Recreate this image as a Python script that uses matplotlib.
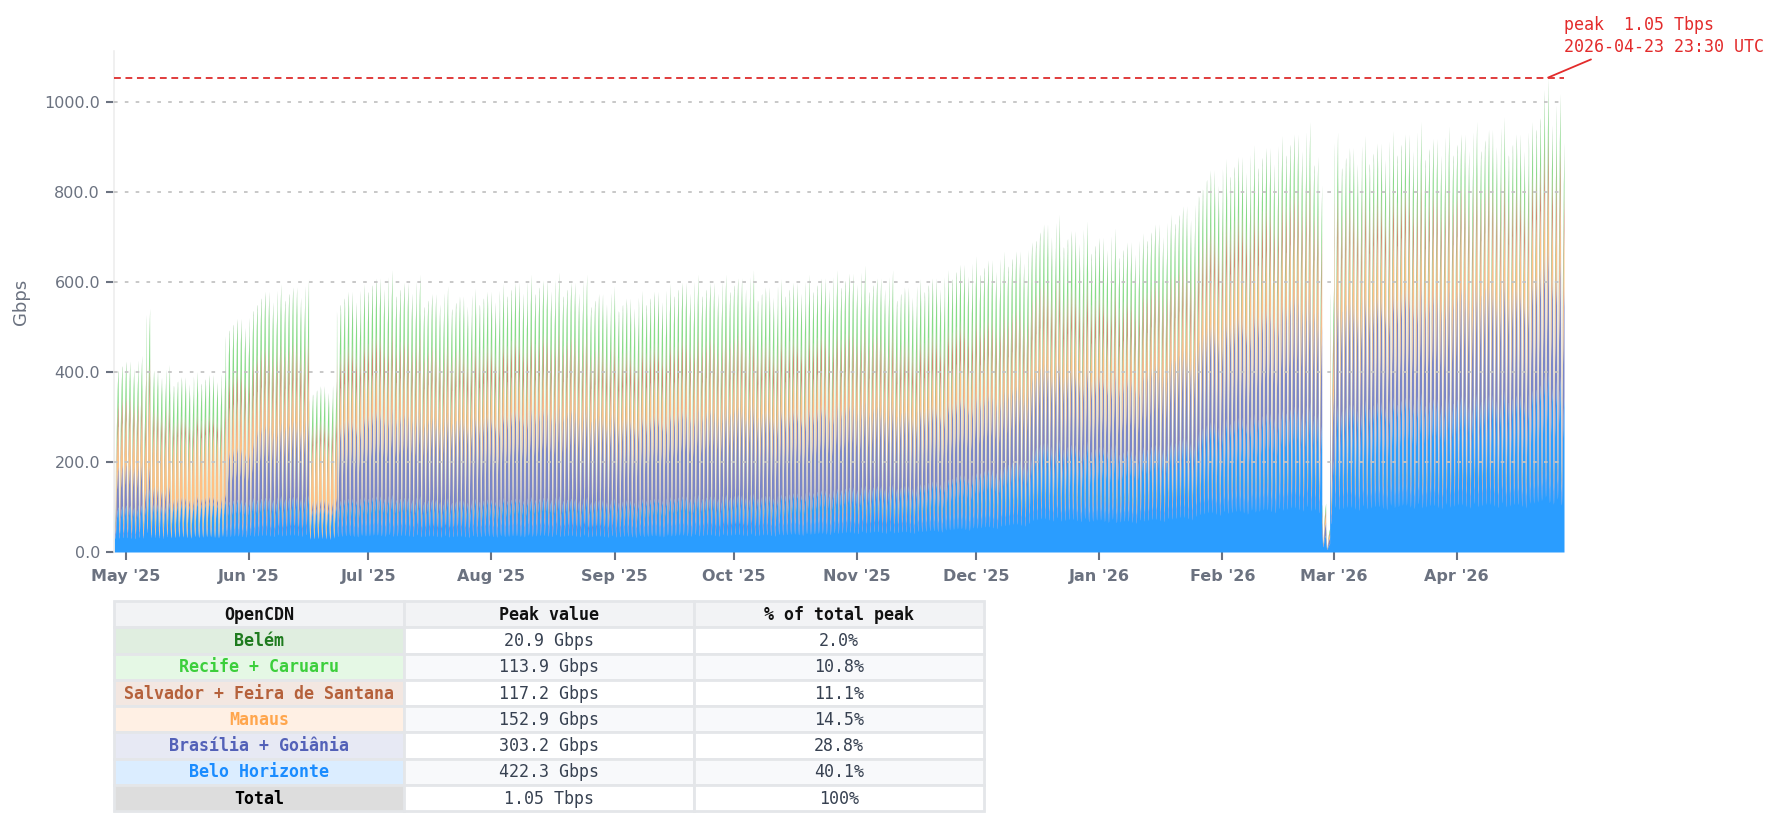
import numpy as np
import matplotlib
matplotlib.use("Agg")
import matplotlib.pyplot as plt
import matplotlib.dates as mdates
from matplotlib.patches import Rectangle

# ---------------- data ----------------
# stacking order bottom -> top
series_names = ["Belo Horizonte", "Brasília + Goiânia", "Manaus",
                "Salvador + Feira de Santana", "Recife + Caruaru", "Belém"]
series_colors = ["#2a9dff", "#5664b8", "#ffa955", "#c0603a", "#3cc83c", "#1f8a1f"]
series_alpha = [1.0, 0.78, 0.72, 0.72, 0.62, 0.7]

first_day = "2025-04-28"   # Monday; one value per week, from this week on
n_days = 365

# weekly evening-peak level of each series (Gbps)
bh_peak = [105, 108, 110, 112, 118, 122, 124, 100, 120, 125, 122, 118, 116, 118,
           120, 122, 120, 117, 116, 120, 125, 125, 128, 126, 132, 138, 145, 148,
           148, 158, 172, 185, 205, 245, 240, 235, 228, 240, 255, 290, 300, 310,
           325, 320, 330, 335, 345, 342, 348, 352, 350, 380, 365]
bg_peak = [95, 40, 15, 15, 120, 165, 170, 20, 180, 195, 192, 185, 185, 190,
           200, 202, 200, 190, 186, 190, 196, 196, 198, 190, 190, 190, 188, 180,
           170, 172, 176, 172, 168, 175, 170, 165, 165, 180, 195, 220, 232, 240,
           250, 240, 235, 240, 245, 242, 245, 250, 245, 265, 258]
man_peak = [95, 125, 140, 142, 100, 90, 90, 130, 85, 85, 84, 80, 78, 78,
            80, 80, 80, 77, 76, 77, 78, 78, 80, 78, 78, 79, 80, 80,
            77, 79, 82, 83, 85, 92, 90, 90, 90, 95, 100, 115, 120, 123,
            128, 125, 125, 126, 128, 127, 128, 128, 127, 135, 132]
sal_peak = [55, 50, 40, 40, 70, 85, 86, 45, 80, 84, 83, 80, 80, 81,
            84, 85, 84, 80, 78, 80, 83, 83, 85, 82, 83, 84, 86, 84,
            80, 82, 86, 87, 88, 94, 92, 90, 90, 94, 98, 103, 106, 107,
            108, 105, 100, 100, 102, 100, 100, 100, 100, 104, 100]
rec_peak = [68, 75, 78, 79, 102, 106, 108, 68, 103, 108, 106, 100, 99, 101,
            104, 104, 104, 99, 97, 101, 106, 106, 107, 102, 105, 107, 108, 105,
            102, 106, 110, 109, 109, 108, 107, 104, 102, 105, 106, 105, 105, 103,
            102, 100, 93, 92, 93, 92, 92, 93, 91, 88, 88]
bel_peak = [7, 7, 7, 7, 10, 12, 12, 7, 12, 13, 13, 12, 12, 12,
            12, 12, 12, 12, 12, 12, 12, 12, 12, 12, 12, 12, 13, 13,
            13, 13, 14, 14, 15, 16, 16, 16, 15, 16, 16, 17, 17, 17,
            17, 17, 17, 17, 17, 17, 17, 17, 17, 18, 17]

# night-time floor of each series as share of its peak
trough_share = [0.30, 0.12, 0.12, 0.12, 0.10, 0.10]

# typical daily shape (UTC hour, xx:30), 0 = floor, 1 = evening peak
day_shape = [0.97, 0.92, 0.75, 0.50, 0.30, 0.15, 0.06, 0.00, 0.02, 0.10, 0.22, 0.32,
             0.45, 0.55, 0.62, 0.66, 0.70, 0.76, 0.82, 0.87, 0.90, 0.93, 0.96, 1.00]

# weekday level (Mon..Sun)
weekday_level = [0.95, 0.97, 1.00, 1.00, 0.96, 0.93, 1.03]

# single days that stand out
special_days = {"2025-05-06": 1.38,
                "2026-02-25": 0.90, "2026-02-26": 0.12,
                "2026-02-27": 0.06, "2026-02-28": 0.70,
                "2026-04-23": 1.066}

# table contents
table_header = ["OpenCDN", "Peak value", "% of total peak"]
table_names = ["Belém", "Recife + Caruaru", "Salvador + Feira de Santana", "Manaus",
               "Brasília + Goiânia", "Belo Horizonte", "Total"]
table_peaks = ["20.9 Gbps", "113.9 Gbps", "117.2 Gbps", "152.9 Gbps",
               "303.2 Gbps", "422.3 Gbps", "1.05 Tbps"]
table_pcts = ["2.0%", "10.8%", "11.1%", "14.5%", "28.8%", "40.1%", "100%"]
table_text_colors = ["#1e7b1e", "#3ccf3c", "#b5613b", "#ffa64d", "#5361b8", "#1a8cff", "#000000"]
table_name_bg = ["#e0eee0", "#e5f8e5", "#f3e7e1", "#fff0e4", "#e7e9f4", "#dbedff", "#dddddd"]

peak_label = "peak  1.05 Tbps\n2026-04-23 23:30 UTC"

# ---------------- build the half-hour-stamped hourly series ----------------
peaks = [bh_peak, bg_peak, man_peak, sal_peak, rec_peak, bel_peak]
day0 = np.datetime64(first_day)
days = day0 + np.arange(n_days)
times = (days[:, None].astype("datetime64[m]")
         + np.arange(24)[None, :] * 60 + 30).ravel()

shape = np.array(day_shape)
day_factor = np.array([weekday_level[i % 7] for i in range(n_days)])
for d, f in special_days.items():
    idx = int((np.datetime64(d) - day0).astype(int))
    day_factor[idx] *= f

layers = []
for s in range(6):
    pk = np.array(peaks[s], dtype=float)[np.arange(n_days) // 7]
    tr = trough_share[s]
    vals = pk[:, None] * (tr + (1 - tr) * shape[None, :]) * day_factor[:, None]
    layers.append(vals.ravel())
layers = np.array(layers)
total = layers.sum(axis=0)
imax = int(np.argmax(total))
tmax, vmax = times[imax], total[imax]

# ---------------- figure ----------------
W, H = 1784, 825
fig = plt.figure(figsize=(W / 100, H / 100), dpi=100)
ax = fig.add_axes([114 / W, 1 - 552 / H, (1564 - 114) / W, (552 - 51) / H])

tnum = mdates.date2num(times.astype("datetime64[s]").astype(object))
base = np.zeros_like(total)
for s in range(6):
    top = base + layers[s]
    ax.fill_between(tnum, base, top, color=series_colors[s], alpha=series_alpha[s],
                    linewidth=0, zorder=2)
    base = top

ax.set_xlim(tnum[0], tnum[-1])
ax.set_ylim(0, vmax * 1.056)

grey = "#6b7280"
ax.set_yticks(np.arange(0, 1001, 200))
ax.yaxis.set_major_formatter(matplotlib.ticker.FormatStrFormatter("%.1f"))
ax.xaxis.set_major_locator(mdates.MonthLocator())
ax.xaxis.set_major_formatter(mdates.DateFormatter("%b '%y"))
ax.tick_params(axis="y", colors=grey, labelsize=11.5, length=6, width=1.5, pad=4)
ax.tick_params(axis="x", colors=grey, labelsize=11.5, length=6, width=1.5, pad=6)
for lab in ax.get_xticklabels():
    lab.set_fontweight("bold")
ax.set_ylabel("Gbps", color=grey, fontsize=13, labelpad=10)

for side in ["top", "right", "bottom"]:
    ax.spines[side].set_visible(False)
ax.spines["left"].set_color("#eeeeee")
ax.spines["left"].set_linewidth(1.2)

for yv in np.arange(200, 1001, 200):
    ax.axhline(yv, color="#c4c4c4", linewidth=1.3, linestyle=(0, (2, 4)), zorder=3)

ax.axhline(vmax, color="#e03c3c", linewidth=1.4, linestyle=(0, (3.5, 2.4)), zorder=4)
ax.annotate(peak_label, xy=(mdates.date2num(tmax.astype("datetime64[s]").astype(object)), vmax),
            xytext=(16, 22), textcoords="offset pixels", ha="left", va="bottom",
            fontsize=12, family="DejaVu Sans Mono", color="#e32b2b", linespacing=1.25,
            arrowprops=dict(arrowstyle="-", color="#e32b2b", lw=1.3,
                            relpos=(0.18, 0.0), shrinkA=2, shrinkB=0),
            annotation_clip=False, zorder=5)

# ---------------- table ----------------
tx0, ty0, tx1, ty1 = 114, 601, 984, 811
tab = fig.add_axes([tx0 / W, 1 - ty1 / H, (tx1 - tx0) / W, (ty1 - ty0) / H])
tab.set_xlim(0, 3)
tab.set_ylim(8, 0)
tab.axis("off")
border = "#e4e6e9"
mono = "DejaVu Sans Mono"

def cell(col, row, bg, text, color, bold):
    tab.add_patch(Rectangle((col, row), 1, 1, facecolor=bg, edgecolor=border,
                            linewidth=2, clip_on=False))
    tab.text(col + 0.5, row + 0.53, text, ha="center", va="center", fontsize=12,
             family=mono, color=color, fontweight="bold" if bold else "normal")

for c, h in enumerate(table_header):
    cell(c, 0, "#f2f3f5", h, "#111111", True)
for r in range(7):
    rowbg = "#ffffff" if r % 2 == 0 else "#f8f9fb"
    cell(0, r + 1, table_name_bg[r], table_names[r], table_text_colors[r], True)
    cell(1, r + 1, rowbg, table_peaks[r], "#374151", False)
    cell(2, r + 1, rowbg, table_pcts[r], "#374151", False)

fig.savefig("out.png", dpi=100)
